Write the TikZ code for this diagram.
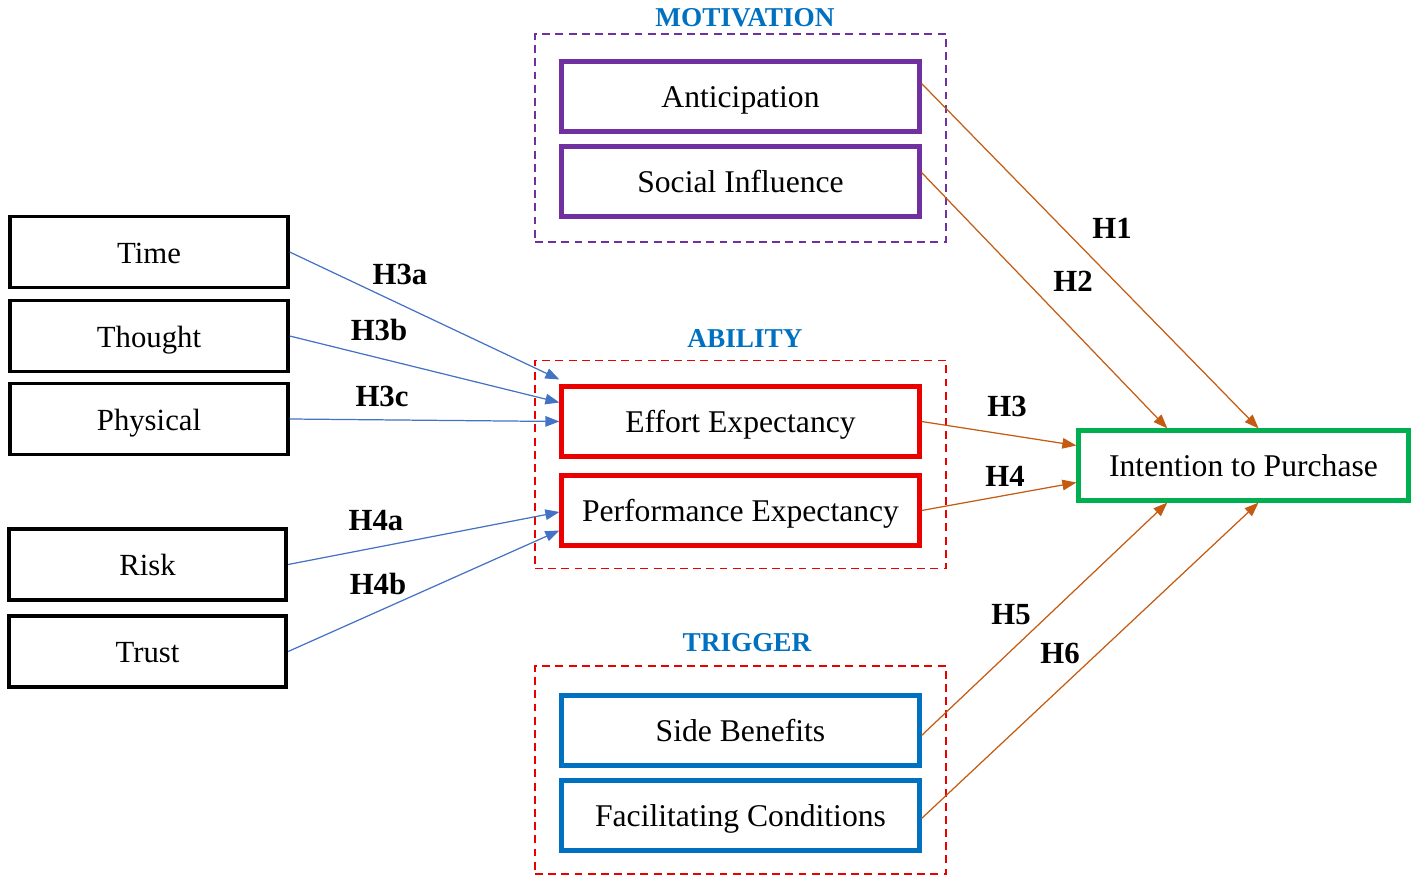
\documentclass[tikz,border=0pt]{standalone}
\usepackage{fontspec}
\setmainfont{Liberation Serif}
\usetikzlibrary{arrows.meta,calc}

\definecolor{motpurple}{RGB}{112,48,160}
\definecolor{abired}{RGB}{235,0,0}
\definecolor{trigblue}{RGB}{0,112,192}
\definecolor{intgreen}{RGB}{0,176,80}
\definecolor{hypbrown}{RGB}{197,90,17}
\definecolor{linkblue}{RGB}{68,114,196}

\begin{document}
\begin{tikzpicture}[x=0.02cm,y=-0.02cm,
    factor/.style={draw=black,line width=2.2pt,minimum width=5.55cm,minimum height=1.42cm,text height=13pt,text depth=0pt,font=\fontsize{17.5}{20}\selectfont},
    construct/.style={draw,line width=2.4pt,minimum width=7.16cm,minimum height=1.4cm,text height=13pt,text depth=0pt,font=\fontsize{18}{20}\selectfont},
    group/.style={draw,dash pattern=on 4.5pt off 3pt,line width=0.8pt,minimum width=8.22cm,minimum height=4.16cm},
    grouplabel/.style={text=trigblue,font=\bfseries\fontsize{15.5}{18}\selectfont},
    hyp/.style={font=\bfseries\fontsize{17.5}{20}\selectfont},
    toint/.style={draw=hypbrown,line width=0.7pt,-{Triangle[length=8pt,width=6pt]}},
    toabi/.style={draw=linkblue,line width=0.7pt,-{Triangle[length=8pt,width=6pt]}}]
    \useasboundingbox (0,0) rectangle (1418,885);

    % groups
    \node[group,draw=motpurple] (mot) at (740.5,138) {};
    \node[group,draw=abired] (abi) at (740.5,464.5) {};
    \node[group,draw=abired] (trig) at (740.5,770) {};
    \node[grouplabel] (motlab) at (745,18) {MOTIVATION};
    \node[grouplabel] (abilab) at (745,339) {ABILITY};
    \node[grouplabel] (triglab) at (747,643) {TRIGGER};

    % constructs
    \node[construct,draw=motpurple] (antic) at (740.5,96.5) {Anticipation};
    \node[construct,draw=motpurple] (social) at (740.5,181.5) {Social Influence};
    \node[construct,draw=abired] (effort) at (740.5,421.5) {Effort Expectancy};
    \node[construct,draw=abired] (perf) at (740.5,510.5) {Performance Expectancy};
    \node[construct,draw=trigblue] (side) at (740.5,730.5) {Side Benefits};
    \node[construct,draw=trigblue] (facil) at (740.5,815.5) {Facilitating Conditions};
    \node[construct,draw=intgreen,minimum width=6.6cm] (intent) at (1243.5,465.5) {Intention to Purchase};

    % antecedents
    \node[factor] (time) at (149,252) {Time};
    \node[factor] (thought) at (149,336) {Thought};
    \node[factor] (phys) at (149,419) {Physical};
    \node[factor] (risk) at (147.5,564.5) {Risk};
    \node[factor] (trust) at (147.5,651.5) {Trust};

    % hypotheses to intention
    \draw[toint] ([yshift=0.26cm]antic.east) -- ($(intent.north west)!0.545!(intent.north east)$);
    \draw[toint] ([yshift=0.18cm]social.east) -- ($(intent.north west)!0.272!(intent.north east)$);
    \draw[toint] (effort.east) -- ([yshift=0.4cm]intent.west);
    \draw[toint] (perf.east) -- ([yshift=-0.34cm]intent.west);
    \draw[toint] ([yshift=-0.1cm]side.east) -- ($(intent.south west)!0.272!(intent.south east)$);
    \draw[toint] ([yshift=-0.06cm]facil.east) -- ($(intent.south west)!0.545!(intent.south east)$);

    % factors to ability
    \draw[toabi] (time.east) -- ([yshift=0.84cm]effort.west);
    \draw[toabi] (thought.east) -- ([yshift=0.38cm]effort.west);
    \draw[toabi] (phys.east) -- (effort.west);
    \draw[toabi] (risk.east) -- ([yshift=-0.03cm]perf.west);
    \draw[toabi] (trust.east) -- ([yshift=-0.4cm]perf.west);

    % labels
    \node[hyp] (h1) at (1112,228) {H1};
    \node[hyp] (h2) at (1073,281) {H2};
    \node[hyp] (h3) at (1007,406) {H3};
    \node[hyp] (h4) at (1005,476) {H4};
    \node[hyp] (h5) at (1011,615) {H5};
    \node[hyp] (h6) at (1060,653) {H6};
    \node[hyp] (h3a) at (400,274) {H3a};
    \node[hyp] (h3b) at (379,330) {H3b};
    \node[hyp] (h3c) at (382,396) {H3c};
    \node[hyp] (h4a) at (376,521) {H4a};
    \node[hyp] (h4b) at (378,584) {H4b};
\end{tikzpicture}
\end{document}
